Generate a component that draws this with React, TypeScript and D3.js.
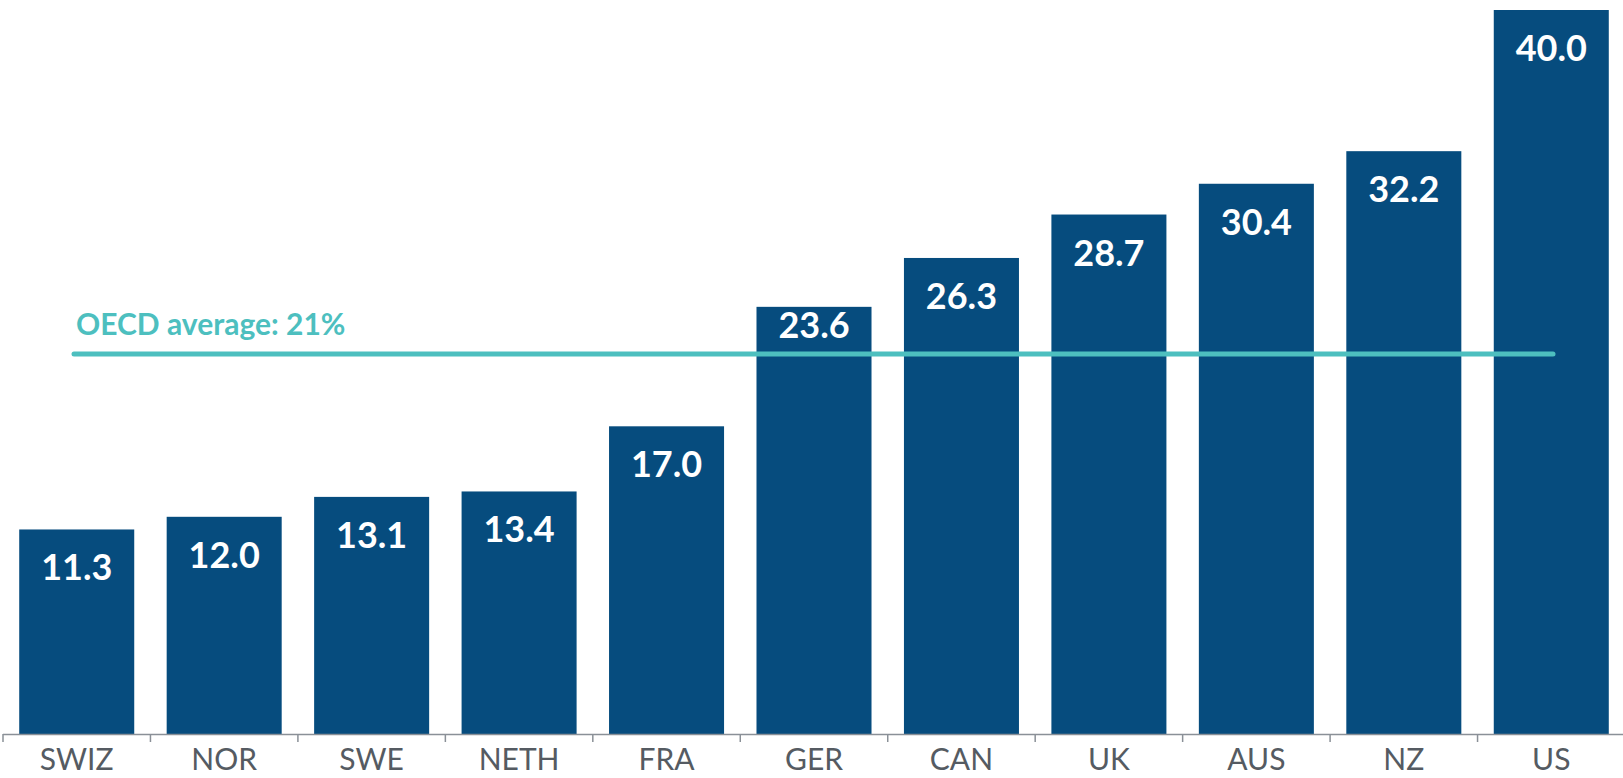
import React from "react";
import * as d3 from "d3";

const countries = ["SWIZ", "NOR", "SWE", "NETH", "FRA", "GER", "CAN", "UK", "AUS", "NZ", "US"];
const values = [11.3, 12.0, 13.1, 13.4, 17.0, 23.6, 26.3, 28.7, 30.4, 32.2, 40.0];
const oecdAverage = 21;
const oecdLabel = "OECD average: 21%";

export default function App() {
  const svgRef = React.useRef<SVGSVGElement>(null);
  const width = 1623;
  const height = 778;

  React.useEffect(() => {
    const svg = d3.select(svgRef.current);
    svg.selectAll("*").remove();

    const baseY = 734;
    const x = d3.scaleBand<string>()
      .domain(countries)
      .range([3, 1625])
      .paddingInner(0.22)
      .paddingOuter(0.11);
    const y = d3.scaleLinear().domain([0, 40]).range([baseY, 10]);

    const data = countries.map((c, i) => ({ name: c, value: values[i] }));
    const gap = x.step() * x.paddingInner() / 2;
    const lineY = y(oecdAverage);

    // bars
    svg.append("g")
      .selectAll("rect")
      .data(data)
      .enter()
      .append("rect")
      .attr("x", d => x(d.name)!)
      .attr("y", d => y(d.value))
      .attr("width", x.bandwidth())
      .attr("height", d => baseY - y(d.value))
      .attr("fill", "#064c7e");

    // oecd line
    svg.append("line")
      .attr("x1", 74)
      .attr("x2", 1553)
      .attr("y1", lineY)
      .attr("y2", lineY)
      .attr("stroke", "#4dbfbf")
      .attr("stroke-width", 5)
      .attr("stroke-linecap", "round");

    svg.append("text")
      .attr("x", 76)
      .attr("y", 335)
      .attr("fill", "#4dbfbf")
      .style("font-family", "Lato, 'Open Sans', sans-serif")
      .style("font-weight", 700)
      .style("font-size", "30px")
      .text(oecdLabel);

    // value labels (moved up when they would sit on the average line)
    const labelY = (v: number) => {
      const top = y(v);
      const base = top + 51;
      if (base > lineY - 8 && base - 28 < lineY + 4) return top + 31;
      return base;
    };
    svg.append("g")
      .selectAll("text")
      .data(data)
      .enter()
      .append("text")
      .attr("x", d => x(d.name)! + x.bandwidth() / 2)
      .attr("y", d => labelY(d.value))
      .attr("text-anchor", "middle")
      .attr("fill", "#fff")
      .style("font-family", "Lato, 'Open Sans', sans-serif")
      .style("font-weight", 700)
      .style("font-size", "36px")
      .text(d => d.value.toFixed(1));

    // x axis
    const axis = svg.append("g");
    axis.append("line")
      .attr("x1", x.range()[0])
      .attr("x2", x.range()[1])
      .attr("y1", baseY + 0.5)
      .attr("y2", baseY + 0.5)
      .attr("stroke", "#8a9097")
      .attr("stroke-width", 1.5);

    const tickXs = countries.map(c => x(c)! - gap).concat([x.range()[1]]);
    axis.selectAll("line.tick")
      .data(tickXs)
      .enter()
      .append("line")
      .attr("class", "tick")
      .attr("x1", d => d)
      .attr("x2", d => d)
      .attr("y1", baseY)
      .attr("y2", baseY + 8)
      .attr("stroke", "#8a9097")
      .attr("stroke-width", 1.5);

    axis.selectAll("text")
      .data(countries)
      .enter()
      .append("text")
      .attr("x", d => x(d)! + x.bandwidth() / 2)
      .attr("y", 770)
      .attr("text-anchor", "middle")
      .attr("fill", "#555b62")
      .style("font-family", "Lato, 'Open Sans', sans-serif")
      .style("font-size", "30px")
      .text(d => d);
  }, []);

  return (
    <svg
      ref={svgRef}
      width={width}
      height={height}
      style={{ position: "absolute", left: 0, top: 0, display: "block" }}
    />
  );
}
